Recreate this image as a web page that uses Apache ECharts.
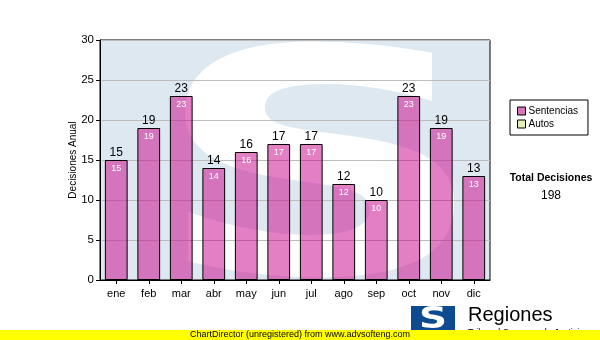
<!DOCTYPE html>
<html><head><meta charset="utf-8">
<script src="https://cdn.jsdelivr.net/npm/echarts@6/dist/echarts.min.js"></script>
<style>html,body{margin:0;padding:0;background:#fff}#c{width:600px;height:340px}</style>
</head><body><div id="c"></div>
<script>
const categories = ['ene','feb','mar','abr','may','jun','jul','ago','sep','oct','nov','dic'];
const sentencias = [15,19,23,14,16,17,17,12,10,23,19,13];
const autos = [];
const yTicks = {min:0, max:30, interval:5};
const seriesNames = ['Sentencias','Autos'];
const yTitle = 'Decisiones Anual';

const total = sentencias.reduce((a,b)=>a+b,0);
const G = {left:100, top:40, width:390, height:240};
const FONT = 'Liberation Sans, Arial, sans-serif';
const PINK = 'rgba(200,0,135,0.5)';
const AUTOS_COLOR = '#e2f0b4';
const chart = echarts.init(document.getElementById('c'));
chart.setOption({
  animation:false,
  backgroundColor:'#ffffff',
  grid:{left:G.left, top:G.top, width:G.width, height:G.height, show:true, borderColor:'#000', borderWidth:1, backgroundColor:'transparent'},
  legend:{
    data:[
      {name:seriesNames[0], icon:'rect', itemStyle:{color:'#d873bd', borderColor:'#000', borderWidth:1}},
      {name:seriesNames[1], icon:'rect', itemStyle:{color:AUTOS_COLOR, borderColor:'#000', borderWidth:1}}
    ],
    orient:'vertical', left:510, top:100,
    itemWidth:8, itemHeight:8, itemGap:3, padding:[6,10,6,7],
    borderColor:'#000', borderWidth:1,
    textStyle:{fontFamily:FONT, fontSize:10, color:'#000', padding:[0,0,0,-2]}
  },
  xAxis:{type:'category', data:categories,
    axisLine:{show:true, lineStyle:{color:'#000'}},
    axisTick:{show:true, alignWithLabel:true, length:4, lineStyle:{color:'#000'}},
    axisLabel:{fontFamily:FONT, fontSize:11, color:'#000', margin:8}},
  yAxis:{type:'value', min:yTicks.min, max:yTicks.max, interval:yTicks.interval,
    axisLine:{show:true, lineStyle:{color:'#000'}},
    axisTick:{show:true, length:4, lineStyle:{color:'#000'}},
    axisLabel:{fontFamily:FONT, fontSize:11.5, color:'#000', margin:6},
    splitLine:{lineStyle:{color:'#bcbcbc', width:1}}},
  graphic:[
    {type:'rect', z:-10, shape:{x:G.left, y:G.top, width:G.width, height:G.height}, style:{fill:'#dee8f0'}},
    {type:'text', z:-9, x:G.left+220, y:G.top+152, scaleX:1.5, scaleY:1.0,
      style:{text:'S', font:'bold 312px "DejaVu Sans"', fill:'#ffffff', textAlign:'center', textVerticalAlign:'middle'}},
    {type:'text', x:73, y:G.top+G.height/2, rotation:Math.PI/2,
      style:{text:yTitle, font:'10px '+FONT, fill:'#000', textAlign:'center', textVerticalAlign:'middle'}},
    {type:'text', x:551, y:178, style:{text:'Total Decisiones', font:'bold 10.5px '+FONT, fill:'#000', textAlign:'center', textVerticalAlign:'middle'}},
    {type:'text', x:551, y:196, style:{text:String(total), font:'12px '+FONT, fill:'#000', textAlign:'center', textVerticalAlign:'middle'}},
    {type:'rect', shape:{x:411, y:306, width:44, height:30}, style:{fill:'#0d4a8f'}},
    {type:'text', x:433, y:320, style:{text:'S', font:'bold 30px "DejaVu Sans"', fill:'#fff', textAlign:'center', textVerticalAlign:'middle'}, scaleX:1.3},
    {type:'text', x:468, y:315, style:{text:'Regiones', font:'20px '+FONT, fill:'#000', textVerticalAlign:'middle'}},
    {type:'text', x:468, y:328, style:{text:'Tribunal Supremo de Justicia', font:'9px '+FONT, fill:'#000'}},
    {type:'rect', shape:{x:0, y:330, width:600, height:10}, style:{fill:'#ffff00'}, z:50},
    {type:'text', x:300, y:335, z:51, style:{text:'ChartDirector (unregistered) from www.advsofteng.com', font:'9px '+FONT, fill:'#000', textAlign:'center', textVerticalAlign:'middle'}}
  ],
  series:[
    {name:seriesNames[0], type:'bar', data:sentencias, barWidth:'70%',
      itemStyle:{color:PINK, borderColor:'#000', borderWidth:1},
      label:{show:true, position:'top', distance:1, fontFamily:FONT, fontSize:12, color:'#000'}},
    {name:'_inner', type:'bar', data:sentencias, barWidth:'70%', barGap:'-100%',
      itemStyle:{color:'rgba(0,0,0,0)'}, silent:true,
      label:{show:true, position:'insideTop', distance:4, fontFamily:FONT, fontSize:9, color:'#fff'}},
    {name:seriesNames[1], type:'line', data:autos, itemStyle:{color:AUTOS_COLOR}}
  ]
});
</script></body></html>
